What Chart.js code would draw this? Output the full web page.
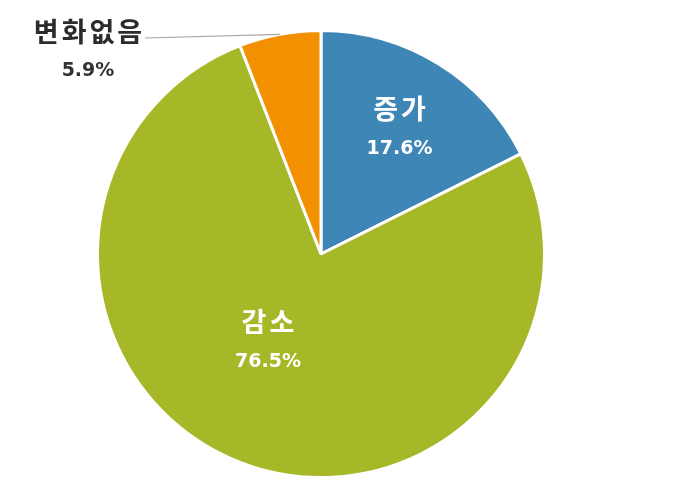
<!DOCTYPE html>
<html>
<head>
<meta charset="utf-8">
<script src="https://cdn.jsdelivr.net/npm/chart.js"></script>
<style>
  html, body { margin: 0; padding: 0; background: #fff; }
  canvas { display: block; }
</style>
</head>
<body>
<canvas id="pieChart" width="690" height="495"></canvas>
<script>
// 응답 분포 (%)
const labels = ["증가", "감소", "변화없음"];
const values = [17.6, 76.5, 5.9];
const colors = ["#3d86b5", "#a6b727", "#f39000"];

// 조각별 라벨 위치 (반지름 비율, 각도 보정)
const labelStyle = [
  { inside: true, r: 0.66, da: 0.5 },
  { inside: true, r: 0.46, da: 10 },
  { inside: false }
];

const sliceLabels = {
  id: "sliceLabels",
  afterDatasetsDraw(chart) {
    const ctx = chart.ctx;
    const meta = chart.getDatasetMeta(0);
    ctx.save();
    ctx.textAlign = "center";
    ctx.textBaseline = "middle";
    meta.data.forEach((arc, i) => {
      const st = labelStyle[i];
      const mid = (arc.startAngle + arc.endAngle) / 2 + (st.da || 0) * Math.PI / 180;
      const text = values[i].toFixed(1) + "%";
      if (st.inside) {
        const rr = arc.outerRadius * st.r;
        const x = arc.x + Math.cos(mid) * rr;
        const y = arc.y + Math.sin(mid) * rr;
        ctx.fillStyle = "#ffffff";
        ctx.font = "bold 27px 'Noto Sans CJK KR'";
        ctx.letterSpacing = "3px";
        ctx.fillText(labels[i], x + 1.5, y - 20);
        ctx.letterSpacing = "0px";
        ctx.font = "bold 19px 'DejaVu Sans'";
        ctx.fillText(text, x, y + 20);
      } else {
        // 바깥 라벨 + 지시선
        const ex = arc.x + Math.cos(mid) * arc.outerRadius;
        const ey = arc.y + Math.sin(mid) * arc.outerRadius;
        const tx = 88, ty = 32;
        ctx.strokeStyle = "#a6a6a6";
        ctx.lineWidth = 1.2;
        ctx.beginPath();
        ctx.moveTo(tx + 57, ty + 6);
        ctx.lineTo(ex, ey);
        ctx.stroke();
        ctx.fillStyle = "#2b2b2b";
        ctx.font = "bold 27px 'Noto Sans CJK KR'";
        ctx.letterSpacing = "3px";
        ctx.fillText(labels[i], tx + 1.5, ty);
        ctx.letterSpacing = "0px";
        ctx.fillStyle = "#333333";
        ctx.font = "bold 19px 'DejaVu Sans'";
        ctx.fillText(text, tx, ty + 39);
      }
    });
    ctx.restore();
  }
};

new Chart(document.getElementById("pieChart"), {
  type: "pie",
  data: {
    labels: labels,
    datasets: [
      {
        data: values,
        backgroundColor: colors,
        borderColor: "#ffffff",
        borderWidth: 3
      }
    ]
  },
  options: {
    responsive: false,
    animation: false,
    layout: {
      padding: { top: 29, bottom: 16, left: 96, right: 144 }
    },
    plugins: {
      legend: { display: false },
      tooltip: { enabled: false }
    }
  },
  plugins: [sliceLabels]
});
</script>
</body>
</html>
